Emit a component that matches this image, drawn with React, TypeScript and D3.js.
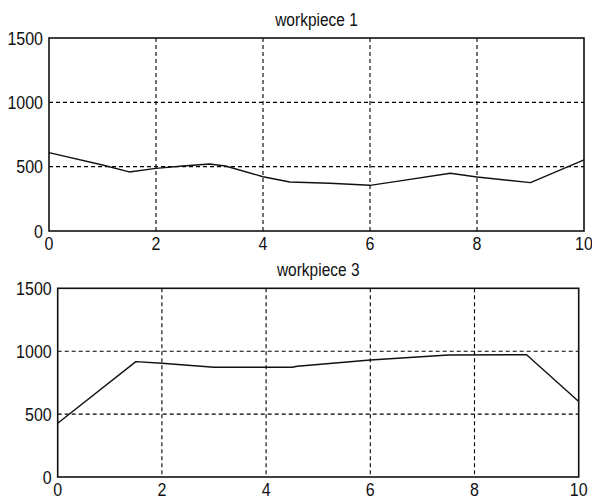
import React from "react";
import * as d3 from "d3";

const W = 592;
const H = 499;

// Sample positions and measured values for each workpiece
const wp1X = [0, 1, 1.5, 2, 2.5, 3, 3.3, 4, 4.5, 5.25, 6, 6.5, 7.5, 8, 9, 10];
const wp1Y = [609, 513, 459, 487, 505, 521, 505, 422, 381, 371, 355, 386, 449, 420, 376, 552];

const wp3X = [0, 1.5, 2, 3, 4.5, 4.6, 6, 7.5, 9, 10];
const wp3Y = [427, 917, 904, 872, 872, 880, 930, 970, 972, 600];

const xTicks = [0, 2, 4, 6, 8, 10];
const yTicks = [0, 500, 1000, 1500];

const FONT = "'Liberation Sans', Arial, Helvetica, sans-serif";
const TEXT_COLOR = "#111";

// Text drawn with a slight vertical stretch (tall, narrow glyphs)
function Label({
  x,
  y,
  anchor,
  dy,
  size = 16,
  children,
}: {
  x: number;
  y: number;
  anchor: "start" | "middle" | "end";
  dy?: string;
  size?: number;
  children: React.ReactNode;
}) {
  return (
    <text
      transform={`translate(${x},${y}) scale(1,1.15)`}
      textAnchor={anchor}
      dy={dy}
      fontFamily={FONT}
      fontSize={size}
      fill={TEXT_COLOR}
    >
      {children}
    </text>
  );
}

type PanelProps = {
  title: string;
  xs: number[];
  ys: number[];
  left: number;
  right: number;
  top: number;
  bottom: number;
  titleY: number;
};

function Panel({ title, xs, ys, left, right, top, bottom, titleY }: PanelProps) {
  const x = d3.scaleLinear().domain([0, 10]).range([left, right]);
  const y = d3.scaleLinear().domain([0, 1500]).range([bottom, top]);
  const pts: [number, number][] = xs.map((v, i) => [v, ys[i]]);
  const line = d3
    .line<[number, number]>()
    .x((d) => x(d[0]))
    .y((d) => y(d[1]));

  return (
    <g>
      <Label x={(left + right) / 2} y={titleY} anchor="middle" size={15.5}>
        {title}
      </Label>
      {/* dashed grid */}
      {xTicks
        .filter((t) => t > 0 && t < 10)
        .map((t) => (
          <line
            key={"gx" + t}
            x1={x(t)}
            x2={x(t)}
            y1={top}
            y2={bottom}
            stroke="#000"
            strokeWidth={1.1}
            strokeDasharray="4,3"
          />
        ))}
      {yTicks
        .filter((t) => t > 0 && t < 1500)
        .map((t) => (
          <line
            key={"gy" + t}
            x1={left}
            x2={right}
            y1={y(t)}
            y2={y(t)}
            stroke="#000"
            strokeWidth={1.1}
            strokeDasharray="4,3"
          />
        ))}
      {/* data line */}
      <path
        d={line(pts) ?? ""}
        fill="none"
        stroke="#111"
        strokeWidth={1.4}
        strokeLinejoin="round"
      />
      {/* axes box */}
      <rect
        x={left}
        y={top}
        width={right - left}
        height={bottom - top}
        fill="none"
        stroke="#111"
        strokeWidth={1.6}
      />
      {/* tick labels */}
      {xTicks.map((t) => (
        <Label key={"tx" + t} x={x(t)} y={bottom + 18.5} anchor="middle">
          {t}
        </Label>
      ))}
      {yTicks.map((t) => (
        <Label key={"ty" + t} x={left - 6} y={y(t)} anchor="end" dy="0.36em">
          {t}
        </Label>
      ))}
    </g>
  );
}

export default function App() {
  return (
    <svg
      width={W}
      height={H}
      style={{ position: "absolute", left: 0, top: 0, background: "#fff" }}
    >
      <rect x={0} y={0} width={W} height={H} fill="#fff" />
      <Panel
        title="workpiece 1"
        xs={wp1X}
        ys={wp1Y}
        left={49}
        right={584}
        top={38}
        bottom={231}
        titleY={26}
      />
      <Panel
        title="workpiece 3"
        xs={wp3X}
        ys={wp3Y}
        left={57.7}
        right={578.7}
        top={288.3}
        bottom={477}
        titleY={276}
      />
    </svg>
  );
}
